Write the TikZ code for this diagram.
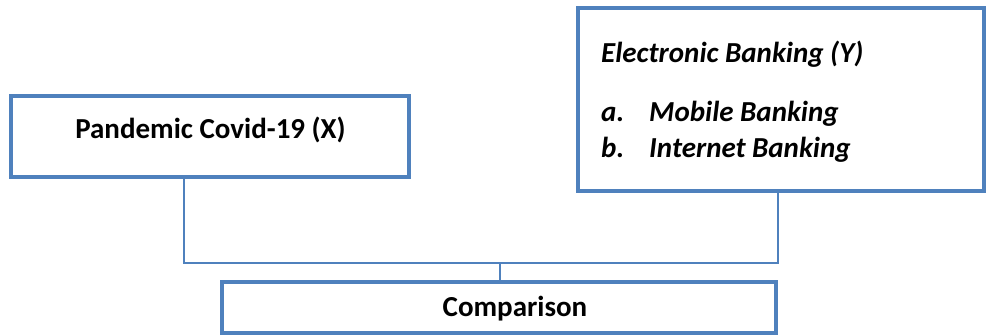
\documentclass[tikz,border=0pt]{standalone}
\usepackage{fontspec}
\setmainfont{Carlito}
\definecolor{boxblue}{HTML}{4F81BD}
\begin{document}
\begin{tikzpicture}[x=1pt,y=-1pt,
  framebox/.style={draw=boxblue,line width=4.5pt,fill=white,rectangle,inner sep=0pt},
  link/.style={draw=boxblue,line width=1.5pt},
  lbl/.style={font=\fontsize{29}{34}\selectfont\bfseries,inner sep=0pt,anchor=base},
  ilbl/.style={font=\fontsize{29}{34}\selectfont\bfseries\itshape,inner sep=0pt,anchor=base west}]
\useasboundingbox (0,0) rectangle (988,336);
\fill[white] (0,0) rectangle (988,336);
\node[framebox,minimum width=398pt,minimum height=81pt] (lbox) at (210,136.5) {};
\node[lbl] (ltext) at (210.5,139) {Pandemic Covid-19 (X)};
\node[framebox,minimum width=406pt,minimum height=183pt] (rbox) at (781,99.5) {};
\node[ilbl] (rtitle) at (601,63) {Electronic Banking (Y)};
\node[ilbl] (ra) at (601,122) {a.};
\node[ilbl] (rat) at (649,122) {Mobile Banking};
\node[ilbl] (rb) at (601,158) {b.};
\node[ilbl] (rbt) at (649,158) {Internet Banking};
\node[framebox,minimum width=554pt,minimum height=51pt] (cbox) at (499,307.5) {};
\node[lbl] (ctext) at (515,317) {Comparison};
\coordinate (lx) at (184,0);
\coordinate (rx) at (778,0);
\coordinate (j) at (500,263);
\draw[link] (lbox.south -| lx) -- (lx |- j) -- (rx |- j) -- (rbox.south -| rx);
\draw[link] (j) -- (j |- cbox.north);
\end{tikzpicture}
\end{document}
